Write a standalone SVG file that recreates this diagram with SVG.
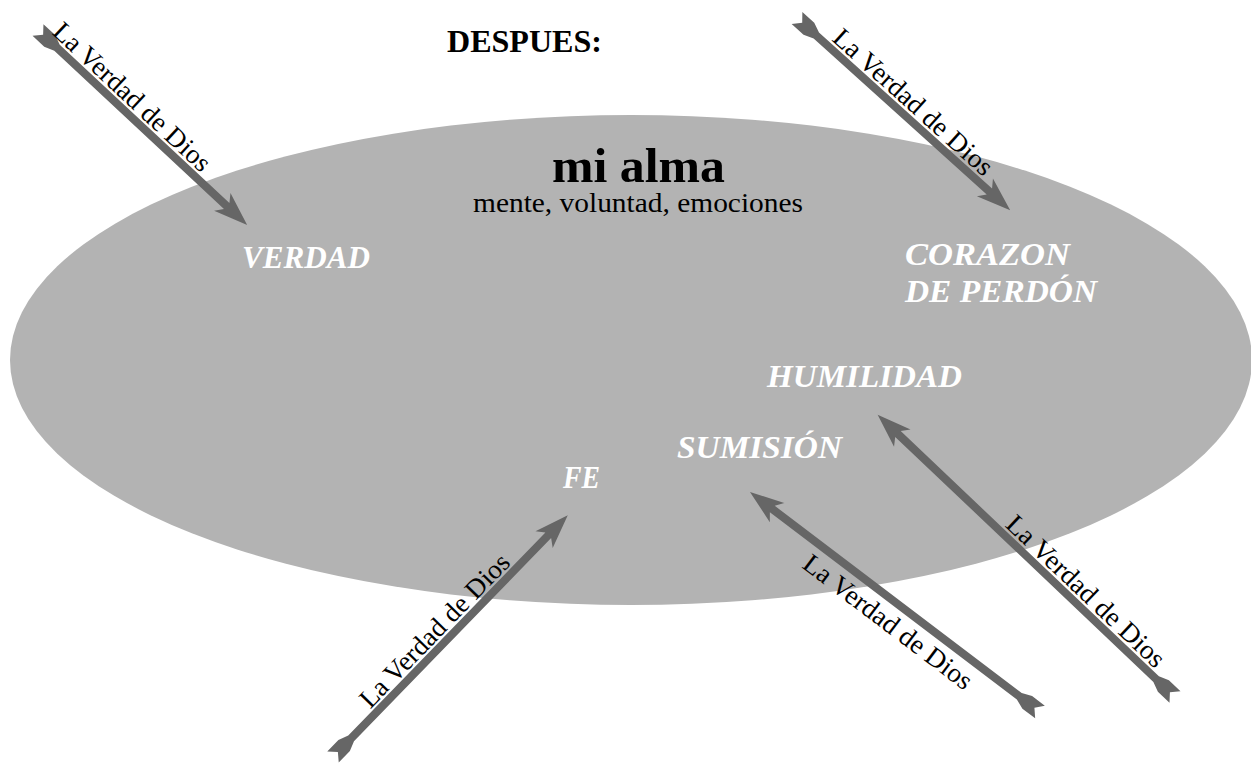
<svg xmlns="http://www.w3.org/2000/svg" width="1251" height="763" viewBox="0 0 1251 763">
<style>
.arrow{fill:#666666;stroke:none}
.lbl{font-family:"Liberation Serif",serif;font-size:27px;fill:#000}
.head{font-family:"Liberation Serif",serif;font-weight:bold;fill:#000}
.virtue{font-family:"Liberation Serif",serif;font-weight:bold;font-style:italic;font-size:31px;fill:#ffffff}
</style>
<rect width="1251" height="763" fill="#ffffff"/>
<g id="alma">
<ellipse cx="631" cy="360" rx="621" ry="245" fill="#b3b3b3"/>
<text class="head" x="552" y="182" font-size="49" textLength="173" lengthAdjust="spacingAndGlyphs">mi alma</text>
<text x="473" y="212" font-family="Liberation Serif, serif" font-size="27" textLength="330" lengthAdjust="spacingAndGlyphs">mente, voluntad, emociones</text>
</g>
<g id="titulo">
<text class="head" x="447" y="52" font-size="31" textLength="155" lengthAdjust="spacingAndGlyphs">DESPUES:</text>
</g>
<g id="verdad"><text class="virtue" x="242" y="268" textLength="128" lengthAdjust="spacingAndGlyphs">VERDAD</text></g>
<g id="corazon">
<text class="virtue" x="905" y="265" textLength="165" lengthAdjust="spacingAndGlyphs">CORAZON</text>
<text class="virtue" x="905" y="302" textLength="192" lengthAdjust="spacingAndGlyphs">DE PERDÓN</text>
</g>
<g id="humildad"><text class="virtue" x="767" y="387" textLength="195" lengthAdjust="spacingAndGlyphs">HUMILIDAD</text></g>
<g id="sumision"><text class="virtue" x="677" y="458" textLength="165" lengthAdjust="spacingAndGlyphs">SUMISIÓN</text></g>
<g id="fe"><text class="virtue" x="563" y="488" textLength="37" lengthAdjust="spacingAndGlyphs">FE</text></g>
<g id="connectors">
<g transform="translate(38,30) rotate(43)">
<path class="arrow" d="M0,-8 L16,-8 L26,-4 L258,-4 L252,-12 L286,0 L252,12 L258,4 L26,4 L16,8 L0,8 L7,0 Z"/>
<text class="lbl" x="12" y="-6.5" textLength="205" lengthAdjust="spacingAndGlyphs">La Verdad de Dios</text>
</g>
<g transform="translate(797,18) rotate(42.03)">
<path class="arrow" d="M0,-8 L16,-8 L26,-4 L259,-4 L253,-12 L287,0 L253,12 L259,4 L26,4 L16,8 L0,8 L7,0 Z"/>
<text class="lbl" x="40" y="-6.5" textLength="205" lengthAdjust="spacingAndGlyphs">La Verdad de Dios</text>
</g>
<g transform="translate(333,757) rotate(-45.84)">
<path class="arrow" d="M0,-8 L16,-8 L26,-4 L309,-4 L303,-12 L337,0 L303,12 L309,4 L26,4 L16,8 L0,8 L7,0 Z"/>
<text class="lbl" x="60" y="-6.5" textLength="203" lengthAdjust="spacingAndGlyphs">La Verdad de Dios</text>
</g>
<g transform="translate(1040,712) rotate(-142.82)">
<path class="arrow" d="M0,-8 L16,-8 L26,-4 L336,-4 L330,-12 L364,0 L330,12 L336,4 L26,4 L16,8 L0,8 L7,0 Z"/>
</g>
<g transform="translate(750,492) rotate(37.18)">
<text class="lbl" x="86" y="29" textLength="205" lengthAdjust="spacingAndGlyphs">La Verdad de Dios</text>
</g>
<g transform="translate(1175,697) rotate(-136.49)">
<path class="arrow" d="M0,-8 L16,-8 L26,-4 L382,-4 L376,-12 L410,0 L376,12 L382,4 L26,4 L16,8 L0,8 L7,0 Z"/>
</g>
<g transform="translate(878,415) rotate(43.51)">
<text class="lbl" x="168" y="-6.5" textLength="208" lengthAdjust="spacingAndGlyphs">La Verdad de Dios</text>
</g>
</g>
</svg>
